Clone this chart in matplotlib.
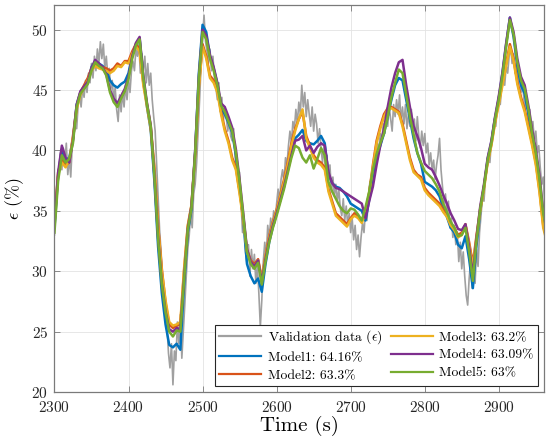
import numpy as np
import matplotlib
matplotlib.use("Agg")
import matplotlib.pyplot as plt

plt.rcParams['font.family'] = 'serif'
plt.rcParams['font.serif'] = ['cmr10']
plt.rcParams['mathtext.fontset'] = 'cm'
plt.rcParams['axes.formatter.use_mathtext'] = True

# validation data, one value every 2 s from 2300 s
val_t0, val_dt = 2300, 2
validation = [
    33.0, 35.8, 37.2, 38.6, 39.8, 38.4, 40.2, 39.0, 40.6, 38.0,
    39.4, 37.8, 40.4, 41.2, 42.6, 41.8, 43.8, 44.6, 43.6, 45.2,
    44.4, 45.8, 44.8, 46.4, 45.6, 47.2, 46.0, 47.8, 46.6, 48.4,
    47.2, 49.0, 47.6, 48.8, 46.8, 47.8, 46.2, 46.8, 45.0, 45.8,
    44.2, 45.2, 43.4, 42.4, 44.6, 43.2, 44.8, 43.6, 45.4, 44.2,
    45.8, 44.8, 46.6, 47.4, 46.6, 48.4, 47.8, 48.8, 46.4, 48.0,
    46.6, 47.8, 45.6, 47.2, 45.4, 46.4, 44.2, 42.8, 41.6, 38.8,
    36.2, 33.4, 31.6, 29.2, 28.0, 26.2, 25.4, 23.2, 22.0, 24.0,
    20.6, 23.4, 22.6, 25.8, 24.0, 26.4, 22.8, 25.0, 27.2, 29.6,
    31.8, 33.0, 34.8, 33.6, 36.4, 37.2, 39.0, 41.6, 44.2, 47.0,
    49.4, 51.2, 49.0, 48.2, 47.2, 48.4, 46.6, 47.8, 46.0, 45.2,
    44.2, 45.6, 43.2, 44.4, 42.4, 43.6, 42.8, 41.6, 42.6, 41.2,
    40.8, 41.8, 39.4, 38.6, 37.0, 38.2, 35.6, 33.2, 34.4, 31.6,
    30.6, 32.2, 29.6, 31.8, 30.2, 31.4, 29.0, 30.6, 28.2, 25.4,
    27.6, 30.8, 32.4, 31.2, 33.8, 32.6, 34.4, 33.4, 35.0, 34.0,
    35.6, 36.8, 35.8, 37.6, 38.4, 37.4, 39.4, 38.8, 40.4, 41.6,
    40.6, 42.4, 41.8, 43.4, 42.2, 44.0, 43.0, 45.4, 43.6, 44.8,
    42.8, 44.2, 43.0, 42.0, 43.6, 41.6, 43.0, 42.2, 40.6, 41.8,
    40.2, 39.0, 40.4, 38.2, 39.6, 37.4, 38.8, 36.6, 37.8, 36.2,
    37.2, 35.8, 36.8, 35.2, 34.6, 36.0, 34.2, 35.4, 33.8, 34.8,
    33.2, 34.4, 32.6, 33.8, 31.8, 33.0, 31.2, 32.8, 34.0, 33.2,
    35.0, 34.2, 36.2, 37.4, 36.8, 38.6, 39.4, 38.8, 40.6, 40.0,
    41.4, 40.8, 42.2, 41.4, 43.0, 42.0, 43.6, 42.6, 41.6, 43.8,
    42.8, 44.2, 43.0, 44.6, 42.4, 43.6, 42.2, 43.8, 41.8, 43.0,
    42.0, 43.4, 41.6, 42.6, 40.8, 42.8, 41.2, 40.2, 41.6, 40.4,
    41.4, 39.8, 40.6, 38.8, 39.8, 38.4, 39.2, 37.6, 38.8, 39.6,
    41.0, 38.4, 37.0, 35.6, 36.4, 34.8, 35.8, 33.6, 34.4, 32.8,
    33.8, 32.2, 33.2, 30.8, 32.4, 30.2, 31.6, 29.6, 28.0, 27.2,
    29.4, 30.8, 28.6, 30.2, 29.0, 31.8, 30.4, 33.2, 34.6, 36.2,
    35.8, 37.6, 38.4, 39.6, 39.0, 40.8, 41.8, 42.6, 42.0, 43.8,
    44.6, 43.8, 45.4, 46.2, 45.4, 47.0, 46.4, 47.8, 48.6, 47.2,
    48.0, 46.4, 47.2, 45.6, 46.4, 44.8, 45.6, 44.2, 43.4, 44.4,
    42.6, 43.4, 41.8, 42.4, 40.8, 41.6, 39.8, 40.4, 38.6, 37.2,
    37.8, 35.4, 34.0,
]

# model outputs, one value every 5 s from 2300 s
mod_t0, mod_dt = 2300, 5
model1 = [
    33.6, 37.9, 40.1, 39.2, 39.4, 40.9, 43.8, 44.8, 45.2, 45.6,
    46.9, 47.4, 47.2, 47.0, 46.6, 45.8, 45.4, 45.2, 45.5, 45.7,
    46.4, 47.9, 48.8, 49.3, 46.0, 43.6, 41.7, 37.4, 32.0, 28.2,
    25.6, 23.9, 23.7, 24.0, 23.5, 28.8, 33.2, 35.1, 39.9, 46.4,
    50.4, 49.8, 47.8, 46.8, 45.5, 43.5, 43.0, 42.3, 41.5, 39.6,
    37.0, 34.2, 30.6, 29.6, 29.0, 29.4, 28.3, 30.6, 32.4, 33.7,
    34.8, 35.9, 37.0, 38.4, 39.8, 41.0, 41.3, 41.7, 40.8, 40.6,
    40.5, 40.8, 41.2, 40.6, 38.0, 37.3, 37.0, 36.9, 36.6, 36.2,
    35.6, 35.4, 35.2, 35.0, 34.2, 35.9, 37.6, 39.4, 40.4, 41.4,
    42.8, 44.2, 45.4, 46.0, 45.8, 44.2, 42.6, 41.0, 39.8, 38.9,
    37.4, 37.2, 37.0, 36.7, 36.2, 35.2, 34.5, 33.6, 33.2, 32.2,
    31.9, 32.9, 31.0, 28.6, 32.2, 35.0, 37.0, 39.3, 40.7, 42.7,
    44.3, 46.4, 48.8, 51.0, 49.4, 47.0, 45.4, 44.7, 43.0, 41.0,
    39.3, 37.1, 34.3, 33.0,
]
model2 = [
    34.2, 38.2, 39.3, 38.8, 39.0, 41.2, 43.6, 44.8, 45.4, 46.0,
    46.8, 47.1, 47.0, 46.9, 46.8, 46.6, 46.8, 47.2, 47.0, 47.4,
    47.4, 48.2, 48.8, 48.4, 45.6, 43.8, 42.0, 38.6, 33.8, 30.2,
    27.4, 25.6, 25.3, 25.5, 25.6, 30.0, 33.7, 35.4, 39.7, 45.4,
    48.8, 47.8, 46.2, 45.8, 45.0, 43.2, 41.8, 40.8, 39.4, 38.6,
    36.6, 34.4, 31.8, 30.9, 30.6, 31.0, 29.4, 31.3, 32.9, 34.1,
    35.1, 36.3, 37.6, 39.0, 40.6, 41.8, 42.6, 43.2, 41.2, 40.4,
    39.6, 39.2, 39.0, 38.6, 36.8, 35.8, 34.8, 34.5, 34.2, 33.9,
    34.4, 34.8, 34.6, 34.2, 34.9, 36.5, 38.8, 40.8, 42.0, 43.0,
    43.5, 43.6, 43.4, 43.2, 42.2, 40.8, 39.4, 38.4, 38.0, 37.8,
    36.9, 36.5, 36.2, 35.9, 35.6, 35.1, 34.7, 34.0, 33.6, 33.0,
    33.2, 33.9, 32.4, 30.6, 33.0, 35.2, 37.0, 39.1, 40.5, 42.4,
    44.0, 45.6, 47.2, 48.8, 47.6, 45.7, 44.4, 43.4, 42.0, 40.6,
    39.0, 36.7, 33.8, 32.6,
]
model3 = [
    34.0, 38.0, 39.0, 38.6, 39.2, 41.0, 43.4, 44.6, 45.2, 45.8,
    46.6, 47.0, 46.8, 46.7, 46.6, 46.4, 46.6, 47.0, 46.9, 47.3,
    47.2, 48.0, 48.6, 48.2, 45.4, 43.6, 41.8, 38.4, 33.6, 30.0,
    27.6, 25.8, 25.5, 25.6, 25.8, 30.2, 33.8, 35.5, 39.6, 45.2,
    48.6, 47.6, 46.0, 45.6, 44.8, 43.0, 41.6, 40.6, 39.2, 38.4,
    36.4, 34.2, 31.6, 30.8, 30.4, 30.9, 29.3, 31.2, 32.8, 34.0,
    35.0, 36.2, 37.4, 38.8, 40.4, 41.6, 42.6, 43.4, 41.0, 40.2,
    39.4, 39.0, 38.8, 38.4, 36.6, 35.6, 34.6, 34.3, 34.0, 33.7,
    34.3, 34.6, 34.4, 34.0, 34.8, 36.4, 38.6, 40.6, 41.8, 42.8,
    43.4, 43.5, 43.3, 43.1, 42.0, 40.6, 39.2, 38.2, 37.9, 37.6,
    36.7, 36.3, 36.0, 35.7, 35.4, 34.9, 34.5, 33.8, 33.4, 32.8,
    33.0, 33.8, 32.2, 30.4, 32.8, 35.0, 36.8, 39.0, 40.4, 42.3,
    43.8, 45.4, 47.0, 48.6, 47.4, 45.5, 44.2, 43.2, 41.8, 40.4,
    38.8, 36.5, 33.6, 32.4,
]
model4 = [
    33.8, 38.2, 40.4, 39.4, 39.0, 40.8, 43.8, 44.9, 45.3, 45.7,
    46.8, 47.5, 47.2, 46.9, 46.3, 45.0, 44.3, 43.9, 44.5, 45.1,
    46.1, 47.8, 48.9, 49.4, 46.2, 43.9, 42.1, 37.9, 32.8, 29.0,
    26.7, 25.2, 25.0, 25.3, 25.2, 29.4, 33.5, 35.4, 40.0, 46.1,
    50.0, 49.5, 47.9, 46.9, 45.6, 43.9, 43.6, 42.8, 41.9, 40.1,
    37.6, 34.8, 31.8, 30.8, 30.4, 30.9, 29.1, 31.0, 32.6, 33.8,
    34.8, 35.9, 37.0, 38.3, 39.6, 40.8, 40.9, 41.2, 40.0, 40.4,
    39.8, 40.3, 40.6, 40.4, 38.2, 37.3, 36.9, 36.8, 36.6, 36.4,
    36.2, 36.0, 35.8, 35.6, 34.4, 35.8, 37.0, 38.8, 40.4, 41.8,
    43.6, 45.2, 46.4, 47.3, 47.5, 45.4, 43.6, 42.0, 41.2, 40.2,
    38.9, 38.6, 38.4, 37.8, 37.1, 36.3, 35.6, 34.8, 34.2, 33.5,
    33.4, 33.9, 32.0, 29.6, 32.8, 35.4, 37.2, 39.4, 40.8, 42.8,
    44.5, 46.5, 48.9, 51.0, 49.8, 47.6, 46.1, 45.4, 43.7, 41.7,
    40.1, 37.9, 35.0, 33.4,
]
model5 = [
    33.2, 37.5, 39.6, 39.0, 39.3, 40.6, 43.6, 44.7, 45.1, 45.5,
    46.6, 47.3, 47.0, 46.8, 46.2, 44.8, 44.0, 43.6, 44.3, 44.9,
    45.9, 47.6, 48.7, 49.2, 46.0, 43.8, 42.0, 37.8, 32.6, 28.9,
    26.6, 25.0, 24.6, 25.1, 25.0, 29.2, 33.4, 35.2, 39.8, 46.0,
    49.8, 49.2, 47.6, 46.6, 45.4, 43.7, 43.2, 42.4, 41.6, 39.8,
    37.4, 34.6, 31.6, 30.6, 30.2, 30.7, 28.9, 30.8, 32.4, 33.6,
    34.6, 35.7, 36.8, 38.1, 39.4, 40.4, 40.2, 39.4, 39.0, 39.6,
    38.5, 39.3, 40.2, 39.6, 37.4, 36.6, 36.0, 35.4, 35.0, 34.8,
    35.2, 35.1, 34.7, 34.2, 35.3, 36.6, 38.4, 39.7, 40.6, 41.4,
    42.8, 44.4, 45.6, 46.7, 46.4, 44.6, 42.8, 41.3, 39.8, 39.0,
    38.3, 38.0, 37.7, 37.2, 36.6, 35.6, 34.9, 34.1, 33.6, 32.9,
    33.0, 33.6, 31.6, 29.2, 32.6, 35.2, 37.0, 39.2, 40.6, 42.6,
    44.2, 46.2, 48.6, 50.8, 49.6, 47.3, 45.8, 45.1, 43.4, 41.4,
    39.8, 37.6, 34.8, 33.2,
]

model_names = ['Model1: 64.16%', 'Model2: 63.3%', 'Model3: 63.2%',
               'Model4: 63.09%', 'Model5: 63%']
model_colors = ['#0072BD', '#D95319', '#EDB120', '#7E2F8E', '#77AC30']

t_val = val_t0 + val_dt * np.arange(len(validation))
t_mod = mod_t0 + mod_dt * np.arange(len(model1))

fig = plt.figure(figsize=(5.5, 4.45), dpi=100)
ax = fig.add_axes([0.099, 0.119, 0.89, 0.87])

ax.plot(t_val, validation, color='#A0A0A0', lw=1.2,
        label=r'Validation data ($\epsilon$)')
for y, name, c in zip([model1, model2, model3, model4, model5],
                      model_names, model_colors):
    ax.plot(t_mod, y, color=c, lw=1.8, label=name)

ax.set_xlim(2300, 2961)
ax.set_ylim(20, 52.05)
ax.set_xticks(np.arange(2300, 2901, 100))
ax.set_yticks(np.arange(20, 51, 5))
ax.grid(True, color='#E3E3E3', lw=0.6)
ax.set_axisbelow(True)
ax.tick_params(direction='in', top=True, right=True, length=4,
               width=0.6, labelsize=11, colors='#262626')
ax.tick_params(axis='x', pad=5.5, colors='#7A7A7A', labelcolor='#262626')
ax.tick_params(axis='y', pad=4.5, colors='#7A7A7A', labelcolor='#262626')
for s in ax.spines.values():
    s.set_color('#7A7A7A')
    s.set_linewidth(0.9)

ax.set_xlabel('Time (s)', fontsize=15, labelpad=1)
ax.set_ylabel(r'$\epsilon$ (%)', fontsize=13, labelpad=4)

leg = ax.legend(loc='lower right', ncol=2, fontsize=9.8, fancybox=False,
                framealpha=1, edgecolor='#262626', handlelength=3.1,
                borderaxespad=0.45, columnspacing=0.65, handletextpad=0.45,
                labelspacing=0.38, borderpad=0.3)
leg.get_frame().set_linewidth(0.8)
for h in leg.get_lines():
    h.set_linewidth(1.6)

fig.savefig('out.png', dpi=100)
